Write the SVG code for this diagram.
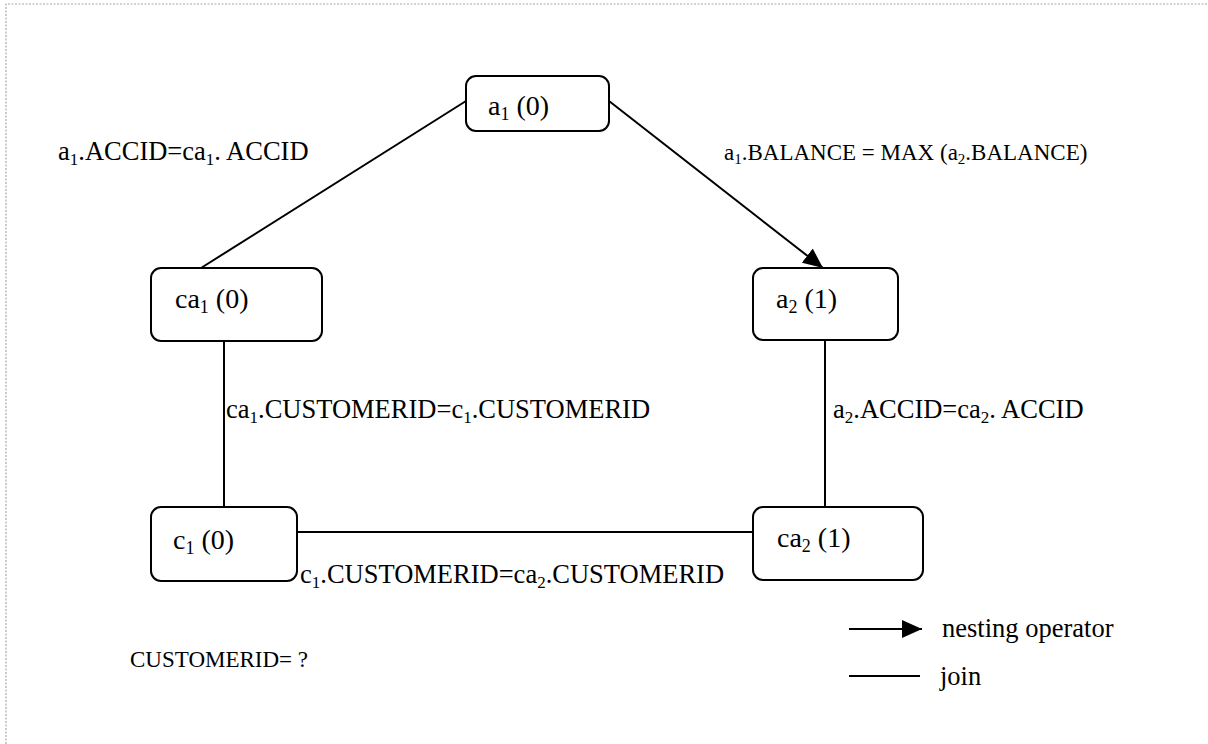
<svg xmlns="http://www.w3.org/2000/svg" width="1208" height="744" viewBox="0 0 1208 744">
  <style>
    .node { fill: #ffffff; stroke: #000000; stroke-width: 2; }
    .edge { fill: none; stroke: #000000; stroke-width: 2; }
    .frame { fill: none; stroke: #a8a8a8; stroke-width: 1.2; stroke-dasharray: 2 1.5; }
    text { font-family: "Liberation Serif", "Times New Roman", serif; fill: #000000; }
    .nl { font-size: 28px; }
    .nl .sub { font-size: 18px; }
    .el { font-size: 26.5px; }
    .el .sub { font-size: 17px; }
    .sm { font-size: 23px; }
    .sm .sub { font-size: 15px; }
  </style>
  <defs>
    <marker id="arrow" markerWidth="22" markerHeight="18" refX="20" refY="9" orient="auto" markerUnits="userSpaceOnUse">
      <path d="M0,0 L20,9 L0,18 Z" fill="#000000"/>
    </marker>
  </defs>

  <rect width="1208" height="744" fill="#ffffff"/>
  <!-- page frame (top and left edges) -->
  <path class="frame" d="M6,744 L6,4 L1208,4"/>

  <!-- connectors -->
  <g id="connectors">
    <line class="edge" x1="466" y1="101" x2="201" y2="268"/>
    <line class="edge" x1="609" y1="101" x2="823" y2="268" marker-end="url(#arrow)"/>
    <line class="edge" x1="224" y1="341" x2="224" y2="507"/>
    <line class="edge" x1="825" y1="340" x2="825" y2="507"/>
    <line class="edge" x1="297" y1="532" x2="753" y2="532"/>
  </g>

  <!-- nodes -->
  <g id="node-a1">
    <rect class="node" x="466" y="76" width="143" height="55" rx="10"/>
    <text class="nl" x="488" y="115">a<tspan class="sub" dy="5">1</tspan><tspan dy="-5"> (0)</tspan></text>
  </g>
  <g id="node-ca1">
    <rect class="node" x="151" y="268" width="171" height="73" rx="10"/>
    <text class="nl" x="175" y="308">ca<tspan class="sub" dy="5">1</tspan><tspan dy="-5"> (0)</tspan></text>
  </g>
  <g id="node-a2">
    <rect class="node" x="753" y="268" width="145" height="72" rx="10"/>
    <text class="nl" x="776" y="308">a<tspan class="sub" dy="5">2</tspan><tspan dy="-5"> (1)</tspan></text>
  </g>
  <g id="node-c1">
    <rect class="node" x="151" y="507" width="146" height="74" rx="10"/>
    <text class="nl" x="173" y="549">c<tspan class="sub" dy="5">1</tspan><tspan dy="-5"> (0)</tspan></text>
  </g>
  <g id="node-ca2">
    <rect class="node" x="753" y="507" width="170" height="73" rx="10"/>
    <text class="nl" x="777" y="547">ca<tspan class="sub" dy="5">2</tspan><tspan dy="-5"> (1)</tspan></text>
  </g>

  <!-- edge labels -->
  <g id="labels">
    <text class="el" x="58" y="160">a<tspan class="sub" dy="5">1</tspan><tspan dy="-5">.ACCID=ca</tspan><tspan class="sub" dy="5">1</tspan><tspan dy="-5">. ACCID</tspan></text>
    <text class="sm" x="724" y="160">a<tspan class="sub" dy="4">1</tspan><tspan dy="-4">.BALANCE = MAX (a</tspan><tspan class="sub" dy="4">2</tspan><tspan dy="-4">.BALANCE)</tspan></text>
    <text class="el" x="226" y="418">ca<tspan class="sub" dy="5">1</tspan><tspan dy="-5">.CUSTOMERID=c</tspan><tspan class="sub" dy="5">1</tspan><tspan dy="-5">.CUSTOMERID</tspan></text>
    <text class="el" x="833" y="418">a<tspan class="sub" dy="5">2</tspan><tspan dy="-5">.ACCID=ca</tspan><tspan class="sub" dy="5">2</tspan><tspan dy="-5">. ACCID</tspan></text>
    <text class="el" x="300" y="583">c<tspan class="sub" dy="5">1</tspan><tspan dy="-5">.CUSTOMERID=ca</tspan><tspan class="sub" dy="5">2</tspan><tspan dy="-5">.CUSTOMERID</tspan></text>
    <text class="sm" x="130" y="667">CUSTOMERID= ?</text>
  </g>

  <!-- legend -->
  <g id="legend">
    <line class="edge" x1="849" y1="629" x2="922" y2="629" marker-end="url(#arrow)"/>
    <text class="el" x="942" y="637">nesting operator</text>
    <line class="edge" x1="849" y1="676" x2="920" y2="676"/>
    <text class="el" x="940" y="685">join</text>
  </g>
</svg>
